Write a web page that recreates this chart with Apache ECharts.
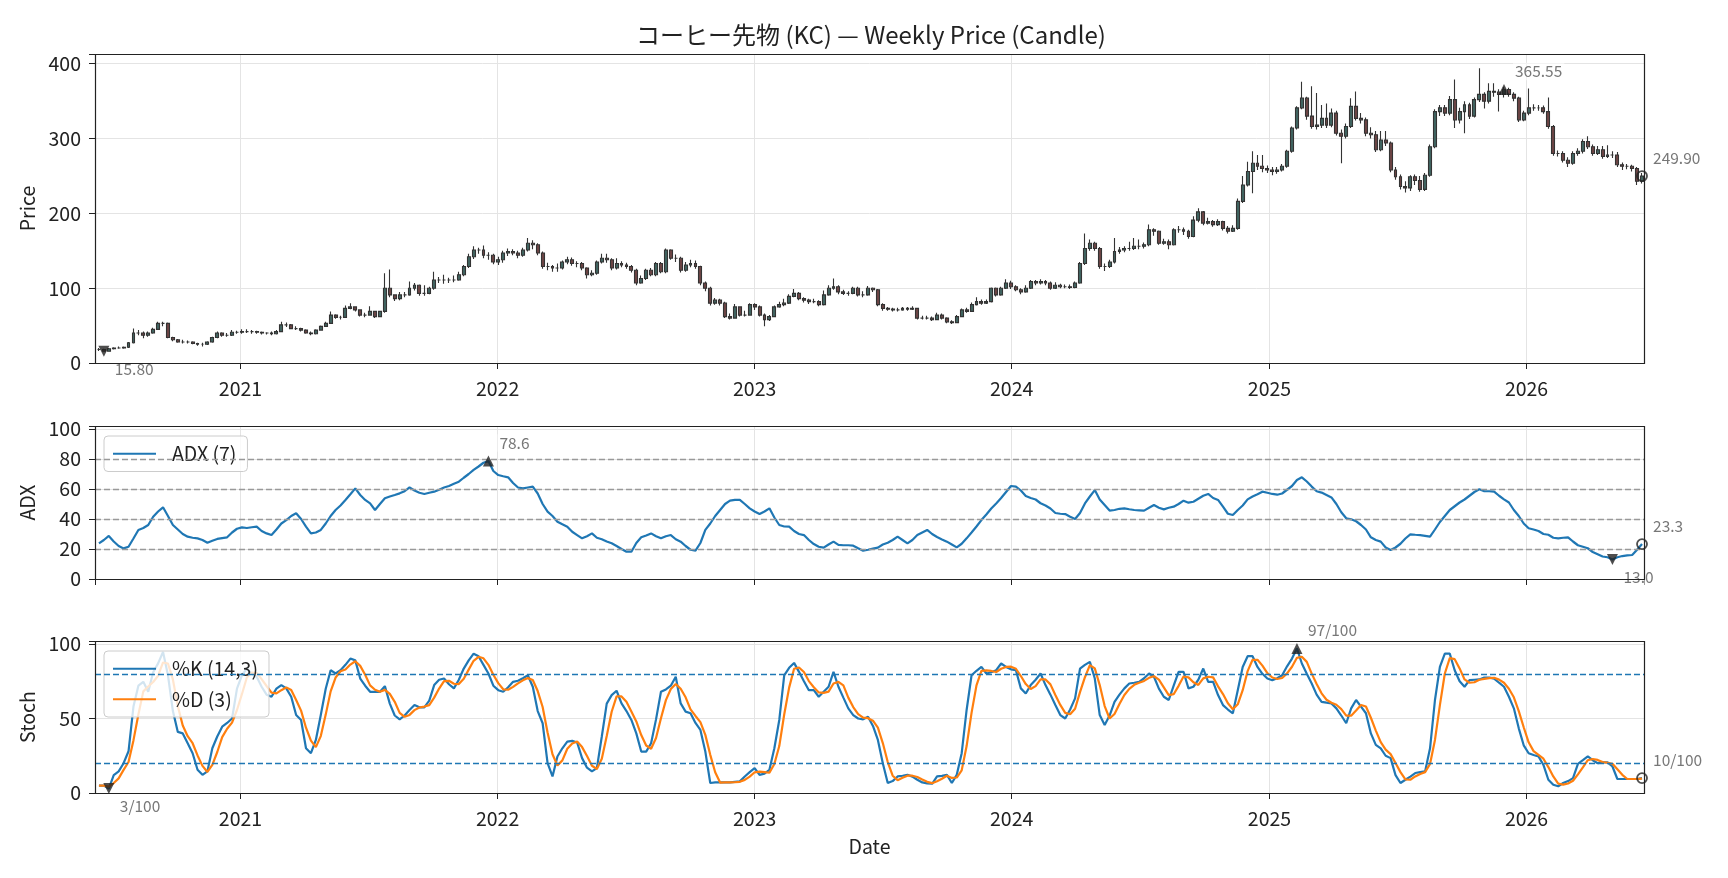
<!DOCTYPE html>
<html>
<head>
<meta charset="utf-8">
<script src="https://cdn.jsdelivr.net/npm/echarts@6/dist/echarts.min.js"></script>
<style>
html, body { margin: 0; padding: 0; background: #fff; }
#chart { width: 1728px; height: 878px; }
</style>
</head>
<body>
<div id="chart"></div>
<script>
// weekly bars, first week starts 2020-06-14
const startDate = new Date(2020, 5, 14).getTime()
const WEEK = 7 * 24 * 3600 * 1000

const closes = [
    18, 15.8, 19, 20, 20, 21, 27, 40, 40, 37,
    40, 45, 53, 53, 34, 31, 28, 28, 28, 26,
    25, 25, 28, 34, 40, 37, 37, 41, 41, 42,
    42, 42, 41, 40, 40, 39, 42, 51, 51, 46,
    46, 44, 40, 39, 44, 49, 53, 64, 61, 61,
    73, 75, 71, 64, 64, 69, 62, 69, 100, 91,
    86, 91, 91, 100, 104, 93, 93, 100, 111, 111,
    111, 111, 111, 118, 129, 142, 151, 151, 144, 144,
    135, 138, 147, 149, 147, 144, 151, 160, 158, 147,
    129, 129, 127, 127, 135, 138, 133, 133, 127, 118,
    120, 135, 140, 138, 127, 133, 131, 129, 124, 107,
    113, 124, 118, 133, 122, 151, 140, 140, 124, 131,
    133, 129, 107, 100, 80, 84, 80, 62, 60, 75,
    64, 64, 78, 75, 64, 58, 62, 75, 78, 80,
    89, 93, 86, 84, 82, 82, 78, 91, 100, 102,
    95, 93, 93, 100, 91, 91, 100, 98, 78, 73,
    72, 71, 71, 73, 72, 73, 60, 60, 60, 58,
    64, 60, 55, 54, 62, 71, 69, 78, 82, 80,
    82, 100, 91, 100, 107, 102, 98, 95, 100, 109,
    107, 109, 107, 100, 104, 102, 102, 101, 107, 133,
    153, 160, 153, 129, 129, 135, 149, 151, 153, 153,
    156, 156, 158, 178, 176, 160, 162, 158, 178, 178,
    176, 169, 191, 202, 187, 189, 185, 189, 180, 176,
    180, 216, 238, 256, 267, 263, 260, 258, 256, 258,
    263, 283, 314, 341, 354, 330, 316, 318, 327, 318,
    334, 307, 303, 316, 343, 327, 325, 307, 305, 285,
    298, 294, 258, 249, 236, 234, 249, 244, 232, 251,
    289, 336, 341, 334, 352, 325, 336, 345, 330, 352,
    359, 350, 363, 362, 359, 365.55, 359, 354, 325, 334,
    341, 341, 341, 336, 316, 280, 280, 271, 267, 280,
    283, 296, 289, 280, 285, 276, 278, 278, 265, 263,
    263, 260, 243, 249.9
]

const highs = [
    20, 19, 20, 21, 22, 22, 28, 46, 44, 42,
    42, 47, 55, 55, 54, 35, 32, 31, 30, 29,
    27, 27, 29, 35, 42, 41, 40, 44, 43, 45,
    45, 44, 43, 42, 41, 42, 44, 55, 54, 52,
    49, 47, 45, 42, 45, 50, 55, 69, 65, 63,
    77, 80, 76, 72, 67, 76, 70, 70, 120, 125,
    92, 95, 95, 109, 107, 105, 104, 102, 122, 115,
    118, 114, 117, 122, 131, 146, 156, 154, 157, 148,
    146, 142, 150, 153, 152, 150, 154, 167, 164, 160,
    149, 134, 131, 133, 137, 142, 141, 136, 135, 128,
    124, 137, 146, 146, 140, 140, 136, 134, 131, 126,
    117, 126, 127, 135, 135, 153, 152, 145, 142, 135,
    138, 137, 130, 109, 102, 87, 86, 82, 66, 79,
    76, 70, 80, 80, 77, 66, 64, 77, 82, 86,
    92, 99, 95, 88, 86, 86, 84, 97, 104, 113,
    104, 98, 96, 102, 102, 96, 103, 101, 99, 80,
    75, 74, 74, 75, 75, 76, 74, 63, 63, 62,
    67, 66, 61, 57, 64, 73, 74, 81, 88, 85,
    85, 101, 101, 102, 112, 110, 104, 100, 104, 111,
    111, 112, 111, 109, 108, 106, 105, 105, 109, 135,
    173, 165, 162, 155, 133, 138, 167, 155, 156, 162,
    167, 165, 161, 185, 180, 177, 166, 165, 180, 183,
    181, 178, 196, 207, 203, 194, 191, 192, 190, 183,
    184, 220, 250, 269, 283, 278, 278, 264, 262, 262,
    266, 285, 316, 343, 376, 356, 370, 361, 345, 347,
    340, 337, 312, 320, 354, 363, 334, 328, 315, 310,
    310, 310, 296, 262, 252, 243, 251, 252, 250, 254,
    292, 339, 345, 345, 357, 379, 341, 350, 348, 355,
    394, 362, 374, 374, 366, 369, 368, 362, 356, 337,
    367, 346, 345, 344, 355, 318, 284, 283, 275, 283,
    287, 299, 303, 292, 290, 290, 291, 283, 282, 268,
    266, 265, 262, 254
]

const lows = [
    16, 15, 15.5, 18, 19, 19, 20, 26, 37, 33,
    35, 39, 44, 49, 33, 29, 27, 26, 26, 25,
    23, 22, 24, 27, 33, 35, 35, 36, 39, 39,
    40, 39, 39, 38, 38, 37, 38, 41, 48, 45,
    44, 42, 39, 37, 38, 43, 48, 52, 59, 58,
    60, 72, 69, 62, 61, 63, 60, 61, 67, 88,
    83, 84, 88, 90, 97, 90, 90, 92, 98, 107,
    106, 107, 108, 110, 116, 127, 139, 146, 140, 138,
    132, 131, 134, 143, 144, 140, 142, 149, 152, 144,
    126, 124, 122, 122, 125, 132, 130, 128, 124, 113,
    116, 118, 133, 134, 124, 125, 128, 126, 121, 104,
    106, 111, 116, 116, 120, 120, 138, 135, 121, 122,
    128, 126, 104, 96, 77, 78, 77, 60, 58, 59,
    62, 62, 63, 71, 62, 49, 56, 61, 74, 76,
    79, 88, 84, 81, 79, 80, 76, 77, 90, 98,
    92, 91, 90, 92, 89, 88, 90, 95, 76, 70,
    70, 69, 69, 70, 70, 71, 58, 58, 58, 56,
    57, 58, 53, 52, 53, 61, 67, 68, 77, 78,
    79, 81, 89, 90, 99, 99, 96, 92, 94, 99,
    104, 105, 104, 98, 99, 100, 100, 99, 100, 106,
    131, 150, 150, 126, 123, 127, 133, 146, 148, 150,
    151, 152, 153, 156, 170, 158, 158, 152, 157, 174,
    171, 166, 168, 188, 184, 185, 182, 183, 177, 173,
    175, 178, 214, 236, 227, 258, 255, 254, 251, 253,
    256, 261, 281, 312, 339, 325, 313, 312, 314, 314,
    315, 304, 267, 300, 314, 324, 320, 303, 300, 282,
    283, 290, 255, 245, 232, 228, 230, 238, 229, 230,
    249, 287, 330, 330, 331, 314, 320, 307, 326, 328,
    349, 340, 347, 356, 336, 355, 356, 350, 322, 323,
    331, 337, 337, 333, 313, 277, 276, 268, 262, 265,
    277, 280, 286, 277, 278, 273, 274, 274, 262, 258,
    259, 256, 238, 240
]

const adx = [
    23.8, 26, 28.7, 25, 22, 20.4, 21.5, 27, 32.7, 34,
    36, 41.5, 45, 47.8, 42, 36, 33, 30, 28.2, 27.5,
    27.1, 26, 24.2, 25.5, 26.7, 27.3, 27.8, 31, 33.5, 34.4,
    34, 34.5, 34.9, 32, 30.4, 29.3, 33, 37, 39.3, 42,
    43.8, 40, 34.9, 30.4, 31, 32.7, 37, 42, 46, 49,
    52.7, 56.5, 60.4, 56, 52.7, 50.4, 46, 50, 53.8, 55,
    56, 57.1, 58.5, 61.1, 59, 57.5, 56.7, 57.5, 58.2, 59.5,
    61, 62, 63.5, 64.9, 67.5, 70, 72.7, 75, 77.5, 78.6,
    72, 69.3, 68.5, 67.8, 64, 61, 60.4, 61, 61.6, 57,
    50, 44.9, 42, 38.2, 36.5, 34.9, 31.5, 29.3, 27.1, 28.5,
    30.4, 27.5, 26.5, 25, 23.8, 22, 20, 18.2, 18.2, 24,
    27.8, 29, 30.4, 28.5, 27.1, 28.5, 29.3, 26.5, 24.9, 22,
    19.5, 18.9, 24, 32.7, 37, 42, 46, 50, 52.2, 52.7,
    52.7, 50, 47.1, 45, 43.3, 45, 47.1, 41, 36, 35,
    34.9, 32, 30, 29.3, 26, 23.3, 21.5, 20.9, 23, 24.9,
    22.7, 22.5, 22.5, 22.2, 20.5, 18.9, 19.5, 20.2, 20.9, 23,
    24.2, 26, 28.2, 26, 23.8, 26, 29.3, 31, 32.7, 30,
    28, 26.4, 24.9, 23, 21.1, 23.5, 27.1, 31, 35, 39.3,
    43, 47, 50.4, 54, 58, 62, 61.6, 59, 55.3, 54,
    53, 50.5, 49, 47, 44, 43.5, 43.3, 41.5, 40, 44,
    50.4, 55, 59.3, 53, 49.3, 45.6, 46, 46.8, 47.1, 46.5,
    46, 45.8, 45.6, 47.5, 49.3, 47.5, 46.4, 47.5, 48.2, 50,
    52.2, 50.9, 51.5, 53.5, 55.5, 56.7, 54, 52.7, 48.2, 43.5,
    42.7, 46, 49, 53.1, 55, 56.5, 58.2, 57.5, 56.7, 56.2,
    57, 59.5, 62, 66, 67.8, 65, 61.6, 58.5, 57.6, 56,
    54.4, 50, 44.5, 40.5, 39.8, 38.5, 36, 33, 27.8, 26,
    24.9, 21, 19.3, 21, 23.5, 27, 29.8, 29.5, 29.3, 28.8,
    28.2, 33, 38, 42, 46, 48.5, 51, 53, 55.5, 58,
    59.8, 58.5, 58.5, 58.2, 55.5, 53.1, 51, 46, 42, 37,
    33.8, 33, 32, 30, 29.5, 27.5, 27.1, 27.5, 27.8, 25,
    22.5, 21.5, 20.5, 18, 16.5, 15, 14.5, 13.0, 14.5, 15.3,
    15.8, 16, 19.5, 23.3
]

const stochK = [
    5, 5, 3, 12, 14.5, 20, 28, 58, 72, 74.6,
    68, 81, 87, 94.7, 79, 55, 41, 40, 33.4, 26.7,
    15.6, 12.2, 14.5, 30, 37.9, 44.5, 47, 50, 70, 79,
    83.5, 80, 78, 71.3, 66, 64.6, 70, 72.4, 70.2, 64.6,
    52.3, 49, 30, 26.7, 35.6, 52.3, 70, 82.4, 80.2, 82.4,
    86, 90.2, 89, 76.8, 72, 67.9, 67.9, 67.9, 71.7, 60,
    52, 49.4, 52, 55.7, 59, 57.5, 57.5, 62, 72.4, 76,
    76.8, 73, 70.2, 76, 83.5, 89, 93.5, 91.8, 86, 80.2,
    72, 69, 67.9, 71, 74.6, 75.3, 77, 79, 71.3, 55,
    46.8, 20, 11.1, 24.5, 30, 34.5, 35, 33.9, 23.4, 17,
    14.5, 16.7, 37.9, 60, 65.7, 68.6, 60.1, 55, 49, 40,
    27.8, 27.8, 33.4, 49.4, 67.9, 69.5, 72, 78, 60.1, 54.6,
    53.5, 47, 42.3, 27.8, 6.7, 7.1, 7.1, 7.1, 7.1, 7.5,
    7.8, 11.1, 14, 16.7, 12.2, 13, 15.6, 30, 49, 79,
    84, 87.3, 81.3, 75, 69, 69, 64.6, 68, 71.3, 81.3,
    71.3, 64, 56.8, 52.3, 50, 49.4, 51.2, 45, 35.6, 20,
    6.7, 8, 11.1, 11.6, 12.2, 11, 8.9, 7.1, 6.5, 6.2,
    11.1, 11.5, 12.2, 6.7, 12.2, 26.7, 55.7, 79, 82, 84.6,
    80.2, 81, 82.4, 86.9, 84.6, 83, 82.4, 70.2, 66.8, 72.4,
    76, 80.2, 72.4, 66, 59, 52.3, 50, 56, 63.5, 83.5,
    86, 88, 76.8, 52.3, 45.7, 52, 61.2, 66, 70.2, 73.5,
    74, 74.6, 77, 80.2, 78, 70, 64.6, 62.4, 72, 81.3,
    81.3, 70.2, 71.3, 76, 83.5, 74.6, 74.6, 65.7, 59, 56,
    53.5, 69, 84.6, 91.8, 91.8, 84.6, 80, 76.8, 75.7, 77,
    79, 85, 90.2, 97, 86.9, 80, 73.5, 66, 61.2, 60.6,
    60.1, 56.8, 52, 46.8, 56.8, 62.4, 58, 53.5, 40, 32.3,
    30, 25, 23.4, 12, 6.7, 8.9, 11, 13.4, 14, 14.5,
    30, 62.4, 84.6, 93.5, 93.5, 82.4, 75, 71.3, 75.7, 76,
    76.2, 77.5, 77.5, 76.8, 74, 71.3, 64.6, 56.8, 43.4, 32,
    26.7, 25.5, 24.5, 18.9, 8.9, 5.5, 4.5, 6.7, 8, 10,
    19.6, 22, 24.5, 22, 20, 20.5, 20.5, 17.8, 9.4, 9.4,
    9.4, 9.4, 9.4, 10
]

const stochD = [
    5, 5, 4.3, 6.7, 9.8, 15.5, 20.8, 35.3, 52.7, 68.2,
    71.5, 74.5, 78.7, 87.6, 86.9, 76.2, 58.3, 45.3, 38.1, 33.4,
    25.2, 18.2, 14.1, 18.9, 27.5, 37.5, 43.1, 47.2, 55.7, 66.3,
    77.5, 80.8, 80.5, 76.4, 71.8, 67.3, 66.9, 69, 70.9, 69.1,
    62.4, 55.3, 43.8, 35.2, 30.8, 38.2, 52.6, 68.2, 77.5, 81.7,
    82.9, 86.2, 88.4, 85.3, 79.3, 72.2, 69.3, 67.9, 69.2, 66.5,
    61.2, 53.8, 51.1, 52.4, 55.6, 57.4, 58, 59, 64, 70.1,
    75.1, 75.3, 73.3, 73.1, 76.6, 82.8, 88.7, 91.4, 90.4, 86,
    79.4, 73.7, 69.6, 69.3, 71.2, 73.6, 75.6, 77.1, 75.8, 68.4,
    57.7, 40.6, 26, 18.5, 21.9, 29.7, 33.2, 34.5, 30.8, 24.8,
    18.3, 16.1, 23, 38.2, 54.5, 64.8, 64.8, 61.2, 54.7, 48,
    38.9, 31.9, 29.7, 36.9, 50.2, 62.3, 69.8, 73.2, 70, 64.2,
    56.1, 51.7, 47.6, 39, 25.6, 13.9, 7, 7.1, 7.1, 7.2,
    7.5, 8.8, 11, 13.9, 14.3, 14, 13.6, 19.5, 31.5, 52.7,
    70.7, 83.4, 84.2, 81.2, 75.1, 71, 67.5, 67.2, 68, 73.5,
    74.6, 72.2, 64, 57.7, 53, 50.6, 50.2, 48.5, 43.9, 33.5,
    20.8, 11.6, 8.6, 10.2, 11.6, 11.6, 10.7, 9, 7.5, 6.6,
    7.9, 9.6, 11.6, 10.1, 10.4, 15.2, 31.5, 53.8, 72.2, 81.9,
    82.3, 81.9, 81.2, 83.4, 84.6, 84.8, 83.3, 78.5, 73.1, 69.8,
    71.7, 76.2, 76.2, 72.9, 65.8, 59.1, 53.8, 52.8, 56.5, 67.7,
    77.7, 85.8, 83.6, 72.4, 58.3, 50, 53, 59.7, 65.8, 69.9,
    72.6, 74, 75.2, 77.3, 78.4, 76.1, 70.9, 65.7, 66.3, 71.9,
    78.2, 77.6, 74.3, 72.5, 76.9, 78, 77.6, 71.6, 66.4, 60.2,
    56.2, 59.5, 69, 81.8, 89.4, 89.4, 85.5, 80.5, 77.5, 76.5,
    77.2, 80.3, 84.7, 90.7, 91.4, 88, 80.1, 73.2, 66.9, 62.6,
    60.6, 59.2, 56.3, 51.9, 51.9, 55.3, 59.1, 58, 50.5, 41.9,
    34.1, 29.1, 26.1, 20.1, 14, 9.2, 8.9, 11.1, 12.8, 14,
    19.5, 35.6, 59, 80.2, 90.5, 89.8, 83.6, 76.2, 74, 74.3,
    76, 76.6, 77.1, 77.3, 76.1, 74, 70, 64.2, 54.9, 44.1,
    34, 28.1, 25.6, 23, 17.4, 11.1, 6.3, 5.6, 6.4, 8.2,
    12.5, 17.2, 22, 22.8, 22.2, 20.8, 20.3, 19.6, 15.9, 12.2,
    9.4, 9.4, 9.4, 9.6
]

const adxLevels = [20, 40, 60, 80]
const stochLevels = [20, 80]

const dates = closes.map((c, i) => startDate + i * WEEK)
const xMin = startDate - 0.8 * WEEK
const xMax = startDate + 313.4 * WEEK

const FONT = '"Noto Sans CJK JP", "Noto Sans", sans-serif'
const TICK_SIZE = 19.5
const LINE_W = 2.2
const GRIDS = [
    {left: 95, top: 54, width: 1549, height: 309},
    {left: 95, top: 426, width: 1549, height: 153},
    {left: 95, top: 641, width: 1549, height: 152}
]

function argMax(arr) {
    let k = 0
    arr.forEach((v, i) => { if (v > arr[k]) k = i })
    return k
}

function argMin(arr) {
    let k = 0
    arr.forEach((v, i) => { if (v < arr[k]) k = i })
    return k
}

function yearLabel(val) {
    const d = new Date(val)
    if (d.getMonth() === 0 && d.getDate() === 1) {
        return String(d.getFullYear())
    }
    return ''
}

function xAxis(gridIndex, showLabel, name) {
    return {
        type: 'time',
        gridIndex: gridIndex,
        min: xMin,
        max: xMax,
        minInterval: 365 * 24 * 3600 * 1000,
        axisLine: {show: false},
        axisTick: {show: true, length: 6, lineStyle: {color: '#222'}},
        axisLabel: {show: showLabel, formatter: yearLabel, margin: 16, fontSize: TICK_SIZE, color: '#222', fontFamily: FONT},
        splitLine: {show: true, lineStyle: {color: '#e4e4e4', width: 1}},
        name: name,
        nameLocation: 'middle',
        nameGap: 44,
        nameTextStyle: {fontSize: TICK_SIZE, color: '#222', fontFamily: FONT}
    }
}

function yAxis(gridIndex, max, interval, name) {
    return {
        type: 'value',
        gridIndex: gridIndex,
        min: 0,
        max: max,
        interval: interval,
        axisLine: {show: false},
        axisTick: {show: true, length: 6, lineStyle: {color: '#222'}},
        axisLabel: {
            formatter: v => (v % interval === 0 ? String(v) : ''),
            margin: 14, fontSize: TICK_SIZE, color: '#222', fontFamily: FONT
        },
        splitLine: {show: true, lineStyle: {color: '#e4e4e4', width: 1}},
        name: name,
        nameLocation: 'middle',
        nameRotate: 90,
        nameGap: 53,
        nameTextStyle: {fontSize: TICK_SIZE, color: '#222', fontFamily: FONT}
    }
}

// 注記マーカー (▲ 最大, ▼ 最小, ○ 最終)
function markerSeries(axisIndex, points) {
    return {
        type: 'scatter',
        xAxisIndex: axisIndex,
        yAxisIndex: axisIndex,
        z: 10,
        silent: true,
        data: points.map(p => ({
            value: [dates[p.i], p.v],
            symbol: p.kind === 'last' ? 'circle' : 'triangle',
            symbolRotate: p.kind === 'min' ? 180 : 0,
            symbolSize: p.kind === 'last' ? 10 : 11,
            itemStyle: p.kind === 'last'
                ? {color: 'rgba(255,255,255,0)', borderColor: '#222', borderWidth: 1.8}
                : {color: '#222'},
            label: {
                show: true,
                position: 'inside',
                align: 'left',
                verticalAlign: 'middle',
                offset: [9, p.kind === 'min' ? 18 : -18],
                formatter: p.text,
                color: '#555',
                fontSize: 15.5,
                fontFamily: FONT,
                backgroundColor: 'rgba(255,255,255,0.7)',
                padding: [1, 2]
            }
        }))
    }
}

const last = closes.length - 1
const pMax = argMax(closes), pMin = argMin(closes)
const aMax = argMax(adx), aMin = argMin(adx)
const kMax = argMax(stochK), kMin = argMin(stochK)

const candleData = closes.map((c, i) => [dates[i], i === 0 ? c : closes[i - 1], c, lows[i], highs[i]])

const legendBase = {
    orient: 'vertical',
    left: 104,
    backgroundColor: 'rgba(255,255,255,0.8)',
    borderColor: '#cccccc',
    borderWidth: 1,
    borderRadius: 4,
    padding: [8, 11, 8, 8],
    itemWidth: 43,
    itemHeight: 14,
    itemGap: 11,
    // 線だけ表示 (記号を隠す)
    itemStyle: {opacity: 0},
    textStyle: {fontSize: 19.5, color: '#222', fontFamily: FONT, padding: [0, 0, 0, 11]}
}

const option = {
    animation: false,
    backgroundColor: '#fff',
    textStyle: {fontFamily: FONT},
    title: {
        text: 'コーヒー先物 (KC) — Weekly Price (Candle)',
        left: 866,
        textAlign: 'center',
        top: 18,
        textStyle: {fontSize: 24, fontWeight: 'normal', color: '#222', fontFamily: FONT}
    },
    legend: [
        Object.assign({}, legendBase, {data: ['ADX (7)'], top: 436}),
        Object.assign({}, legendBase, {data: ['%K (14,3)', '%D (3)'], top: 651})
    ],
    grid: GRIDS.map(g => Object.assign({}, g)),
    xAxis: [xAxis(0, true, ''), xAxis(1, false, ''), xAxis(2, true, 'Date')],
    yAxis: [yAxis(0, 413, 100, 'Price'), yAxis(1, 102, 20, 'ADX'), yAxis(2, 102, 50, 'Stoch')],
    series: [
        {
            type: 'candlestick',
            name: 'Price',
            xAxisIndex: 0,
            yAxisIndex: 0,
            barWidth: 3.4,
            encode: {x: 0, y: [1, 2, 3, 4]},
            itemStyle: {
                color: '#426662',
                color0: '#6e4646',
                borderColor: '#333333',
                borderColor0: '#333333',
                borderWidth: 1.1
            },
            data: candleData
        },
        {
            type: 'line',
            name: 'ADX (7)',
            xAxisIndex: 1,
            yAxisIndex: 1,
            symbol: 'none',
            lineStyle: {color: '#1f77b4', width: LINE_W},
            itemStyle: {color: '#1f77b4'},
            data: adx.map((v, i) => [dates[i], v]),
            markLine: {
                silent: true,
                symbol: 'none',
                label: {show: false},
                lineStyle: {color: '#999999', type: [6, 3], width: 1.4},
                data: adxLevels.map(v => ({yAxis: v}))
            }
        },
        {
            type: 'line',
            name: '%K (14,3)',
            xAxisIndex: 2,
            yAxisIndex: 2,
            symbol: 'none',
            lineStyle: {color: '#1f77b4', width: LINE_W},
            itemStyle: {color: '#1f77b4'},
            data: stochK.map((v, i) => [dates[i], v]),
            markLine: {
                silent: true,
                symbol: 'none',
                label: {show: false},
                lineStyle: {color: '#1f77b4', type: [6, 3], width: 1.4},
                data: stochLevels.map(v => ({yAxis: v}))
            }
        },
        {
            type: 'line',
            name: '%D (3)',
            xAxisIndex: 2,
            yAxisIndex: 2,
            symbol: 'none',
            lineStyle: {color: '#ff7f0e', width: LINE_W},
            itemStyle: {color: '#ff7f0e'},
            data: stochD.map((v, i) => [dates[i], v])
        },
        markerSeries(0, [
            {i: pMax, v: closes[pMax], kind: 'max', text: closes[pMax].toFixed(2)},
            {i: pMin, v: closes[pMin], kind: 'min', text: closes[pMin].toFixed(2)},
            {i: last, v: closes[last], kind: 'last', text: closes[last].toFixed(2)}
        ]),
        markerSeries(1, [
            {i: aMax, v: adx[aMax], kind: 'max', text: adx[aMax].toFixed(1)},
            {i: aMin, v: adx[aMin], kind: 'min', text: adx[aMin].toFixed(1)},
            {i: last, v: adx[last], kind: 'last', text: adx[last].toFixed(1)}
        ]),
        markerSeries(2, [
            {i: kMax, v: stochK[kMax], kind: 'max', text: Math.round(stochK[kMax]) + '/100'},
            {i: kMin, v: stochK[kMin], kind: 'min', text: Math.round(stochK[kMin]) + '/100'},
            {i: last, v: stochK[last], kind: 'last', text: Math.round(stochK[last]) + '/100'}
        ])
    ],
    // 枠線 (spines)
    graphic: GRIDS.map(g => ({
        type: 'rect',
        silent: true,
        z: 50,
        shape: {x: g.left + 0.5, y: g.top + 0.5, width: g.width, height: g.height},
        style: {fill: 'none', stroke: '#222', lineWidth: 1.2}
    }))
}

const chart = echarts.init(document.getElementById('chart'))
chart.setOption(option)
</script>
</body>
</html>
